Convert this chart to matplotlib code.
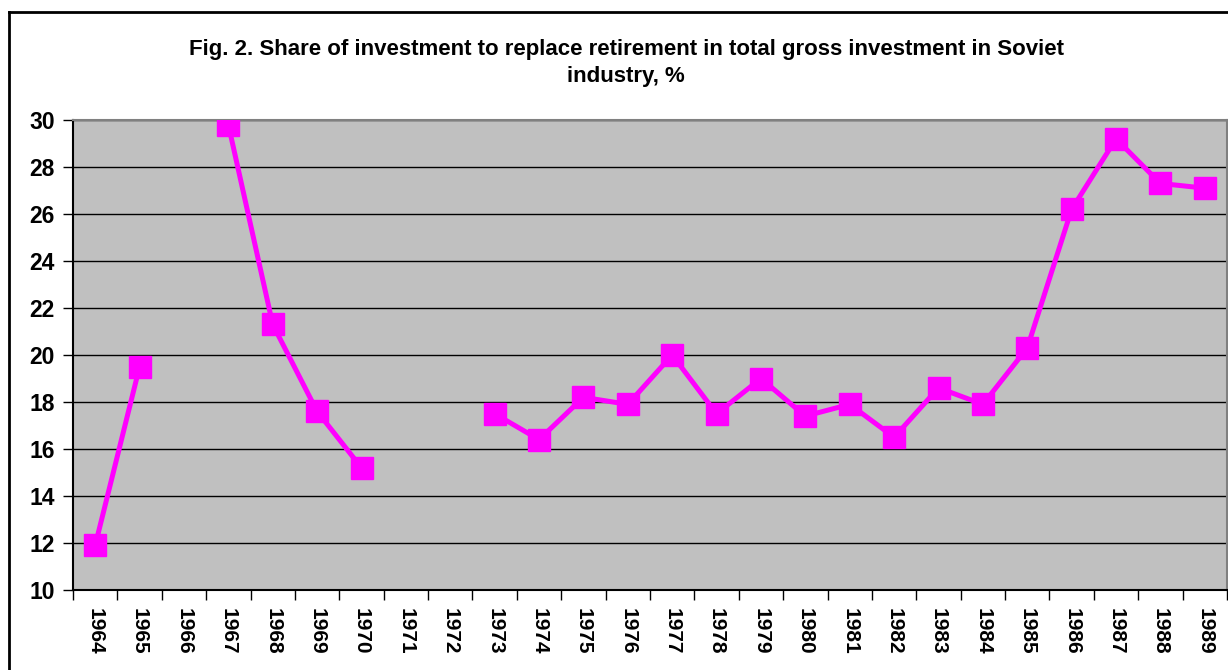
import numpy as np
import matplotlib.pyplot as plt
from matplotlib.lines import Line2D

plt.rcParams['font.family'] = ['Liberation Sans', 'DejaVu Sans']

# data
years = [str(y) for y in range(1964, 1990)]
share = [11.9, 19.5, np.nan, 29.8, 21.3, 17.6, 15.2, np.nan, np.nan,
         17.5, 16.4, 18.2, 17.9, 20.0, 17.5, 19.0, 17.4, 17.9, 16.5,
         18.6, 17.9, 20.3, 26.2, 29.2, 27.3, 27.1]
title = ('Fig. 2. Share of investment to replace retirement in total gross investment in Soviet\n'
         'industry, %')


def main():
    fig = plt.figure(figsize=(12.28, 6.70), dpi=100)
    ax = fig.add_axes([73 / 1228, 80 / 670, 1154 / 1228, 470 / 670])
    ax.set_facecolor('#C0C0C0')

    x = np.arange(len(years))
    ax.plot(x, share, color='#FF00FF', lw=3.6, marker='s', ms=16,
            mfc='#FF00FF', mec='#FF00FF', zorder=3)

    ax.set_xlim(-0.5, len(years) - 0.5)
    ax.set_ylim(10, 30)
    ax.set_yticks(range(10, 31, 2))
    ax.grid(axis='y', color='black', lw=1)
    ax.set_axisbelow(True)

    ax.set_xticks(x)
    ax.set_xticklabels(years, rotation=-90, fontsize=15, fontweight='bold')
    ax.set_xticks(np.arange(len(years) + 1) - 0.5, minor=True)
    ax.tick_params(axis='x', which='major', length=0, pad=13)
    ax.tick_params(axis='x', which='minor', length=7, width=1, color='black')
    ax.tick_params(axis='y', length=7, width=1, pad=6, labelsize=16.5)
    for lab in ax.get_yticklabels():
        lab.set_fontweight('bold')

    for s in ['top', 'right']:
        ax.spines[s].set_color('#808080')
        ax.spines[s].set_linewidth(1.5)
    for s in ['left', 'bottom']:
        ax.spines[s].set_color('black')
        ax.spines[s].set_linewidth(1.5)

    fig.text(0.51, 1 - 63 / 670, title, ha='center', va='center',
             fontsize=16, fontweight='bold', linespacing=1.4)

    # outer chart border (cut off on the right and bottom)
    fig.add_artist(Line2D([9 / 1228, 9 / 1228], [0, 1 - 12 / 670],
                          transform=fig.transFigure, color='black', lw=2))
    fig.add_artist(Line2D([9 / 1228, 1], [1 - 12 / 670, 1 - 12 / 670],
                          transform=fig.transFigure, color='black', lw=2))

    fig.savefig('out.png', dpi=100)


if __name__ == '__main__':
    main()
